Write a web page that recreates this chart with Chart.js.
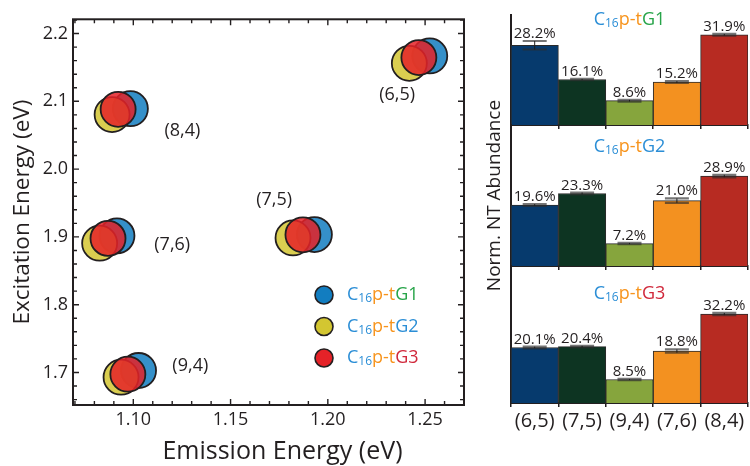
<!DOCTYPE html>
<html>
<head>
<meta charset="utf-8">
<script src="https://cdn.jsdelivr.net/npm/chart.js@4"></script>
<style>
  html, body { margin: 0; padding: 0; background: #fff; width: 750px; height: 466px; overflow: hidden; }
  canvas { position: absolute; left: 0; top: 0; }
</style>
</head>
<body>
<canvas id="pl" width="750" height="466"></canvas>
<canvas id="nt0" width="750" height="466"></canvas>
<canvas id="nt1" width="750" height="466"></canvas>
<canvas id="nt2" width="750" height="466"></canvas>
<script>
// ---- data ----
const chiralities = ['(6,5)', '(7,5)', '(9,4)', '(7,6)', '(8,4)'];
const sampleSuffix = ['G1', 'G2', 'G3'];

// PL peak positions (eV), in chirality order
const emissionG1   = [1.2524, 1.1931, 1.1027, 1.0916, 1.0985];
const excitationG1 = [2.1669, 1.9034, 1.7029, 1.9015, 2.0892];
const emissionG2   = [1.2419, 1.1821, 1.0937, 1.0827, 1.0891];
const excitationG2 = [2.1560, 1.8985, 1.6931, 1.8907, 2.0805];
const emissionG3   = [1.2468, 1.1872, 1.0972, 1.0870, 1.0922];
const excitationG3 = [2.1646, 1.9031, 1.6975, 1.8978, 2.0882];

// where each chirality tag sits (eV, eV)
const tagEmission   = [1.2356, 1.1724, 1.1293, 1.1200, 1.1252];
const tagExcitation = [2.1096, 1.9550, 1.7090, 1.8880, 2.0570];

// normalized nanotube abundance (%) and its uncertainty
const abundanceG1 = [28.2, 16.1, 8.6, 15.2, 31.9];
const abundanceG2 = [19.6, 23.3, 7.2, 21.0, 28.9];
const abundanceG3 = [20.1, 20.4, 8.5, 18.8, 32.2];
const errorG1 = [1.5, 0.2, 0.3, 0.3, 0.3];
const errorG2 = [0.3, 0.3, 0.2, 0.7, 0.4];
const errorG3 = [0.3, 0.3, 0.2, 0.6, 0.4];

// axis ranges and tick labels
const emissionRange = [1.069, 1.270];
const excitationRange = [1.652, 2.221];
const emissionTicks = [1.10, 1.15, 1.20, 1.25];
const excitationTicks = [1.7, 1.8, 1.9, 2.0, 2.1, 2.2];
const abundanceMax = [38.9, 45.3, 49.6];

// ---- styling ----
const FONT = "'Open Sans', 'DejaVu Sans', sans-serif";
const INK = '#231f20';
Chart.defaults.font.family = FONT;
Chart.defaults.color = INK;

const markerColors = ['#127dc0', '#d3c631', '#e52228'];
const markerFill = ['rgba(18,125,192,0.85)', 'rgba(211,198,49,0.85)', 'rgba(229,34,40,0.85)'];
const nameBlue = '#2b8ed6', nameOrange = '#f7941d';
const suffixColors = ['#27a449', '#2b8ed6', '#d0283b'];
const barColors = ['#063a6d', '#0d3422', '#86a53d', '#f39120', '#b72b22'];

// "C16p-tGn" with subscript and mixed colours
function drawSampleName(ctx, x, y, idx, align) {
  const parts = [
    { t: 'C', c: nameBlue, s: 18, dy: 0 },
    { t: '16', c: nameBlue, s: 12, dy: 4 },
    { t: 'p-t', c: nameOrange, s: 18, dy: 0 },
    { t: sampleSuffix[idx], c: suffixColors[idx], s: 18, dy: 0 }
  ];
  ctx.save();
  ctx.textBaseline = 'middle';
  ctx.textAlign = 'left';
  let total = 0;
  parts.forEach(p => { ctx.font = p.s + 'px ' + FONT; p.w = ctx.measureText(p.t).width; total += p.w; });
  let cx = align === 'center' ? x - total / 2 : x;
  parts.forEach(p => {
    ctx.font = p.s + 'px ' + FONT;
    ctx.fillStyle = p.c;
    ctx.fillText(p.t, cx, y + p.dy);
    cx += p.w;
  });
  ctx.restore();
}

// ---- PL map ----
const frameAndTicks = {
  id: 'frameAndTicks',
  afterDraw(chart) {
    const { ctx, chartArea: a, scales: { x, y } } = chart;
    ctx.save();
    ctx.strokeStyle = INK;
    ctx.lineWidth = 1.4;
    for (let k = 107; k <= 127; k++) {
      const px = x.getPixelForValue(k / 100);
      const len = k % 5 === 0 ? 6 : 4;
      ctx.beginPath();
      ctx.moveTo(px, a.bottom); ctx.lineTo(px, a.bottom - len);
      ctx.moveTo(px, a.top); ctx.lineTo(px, a.top + len);
      ctx.stroke();
    }
    for (let k = 166; k <= 222; k += 2) {
      const py = y.getPixelForValue(k / 100);
      const len = k % 10 === 0 ? 6 : 4;
      ctx.beginPath();
      ctx.moveTo(a.left, py); ctx.lineTo(a.left + len, py);
      ctx.moveTo(a.right, py); ctx.lineTo(a.right - len, py);
      ctx.stroke();
    }
    ctx.lineWidth = 2;
    ctx.strokeRect(a.left, a.top, a.right - a.left, a.bottom - a.top);

    // chirality tags
    ctx.fillStyle = INK;
    ctx.font = '18px ' + FONT;
    ctx.textAlign = 'center';
    ctx.textBaseline = 'middle';
    chiralities.forEach((c, i) => {
      ctx.fillText(c, x.getPixelForValue(tagEmission[i]), y.getPixelForValue(tagExcitation[i]));
    });

    // x-axis title
    ctx.font = '25px ' + FONT;
    ctx.fillText('Emission Energy (eV)', (a.left + a.right) / 2 + 14, a.bottom + 47);

    // legend
    const lx = a.right - 140, ly = a.bottom - 110;
    for (let i = 0; i < 3; i++) {
      const cy = ly + i * 31.5;
      ctx.beginPath();
      ctx.arc(lx, cy, 9, 0, Math.PI * 2);
      ctx.fillStyle = markerColors[i];
      ctx.fill();
      ctx.lineWidth = 1.6;
      ctx.strokeStyle = INK;
      ctx.stroke();
      drawSampleName(ctx, lx + 23, cy, i, 'left');
    }
    ctx.restore();
  }
};

function points(xs, ys) { return xs.map((v, i) => ({ x: v, y: ys[i] })); }
const plSeries = [[emissionG1, excitationG1], [emissionG2, excitationG2], [emissionG3, excitationG3]];

new Chart(document.getElementById('pl'), {
  type: 'scatter',
  data: {
    datasets: plSeries.map((s, i) => ({
      label: 'C16p-t' + sampleSuffix[i],
      data: points(s[0], s[1]),
      backgroundColor: markerFill[i],
      borderColor: INK,
      borderWidth: 1.8,
      pointRadius: 17.5,
      order: 3 - i
    }))
  },
  options: {
    responsive: false,
    animation: false,
    events: [],
    layout: { padding: { left: 0, top: 15, right: 286, bottom: 0 } },
    plugins: { legend: { display: false }, tooltip: { enabled: false } },
    scales: {
      x: {
        type: 'linear',
        min: emissionRange[0], max: emissionRange[1],
        afterFit(s) { s.height = 61; },
        grid: { display: false, drawTicks: false },
        border: { display: false },
        ticks: {
          stepSize: 0.05, includeBounds: false, autoSkip: false, maxRotation: 0, padding: 4,
          font: { size: 18 }, color: INK,
          callback(v) {
            const t = emissionTicks.find(t => Math.abs(t - v) < 1e-6);
            return t === undefined ? '' : t.toFixed(2);
          }
        }
      },
      y: {
        type: 'linear',
        min: excitationRange[0], max: excitationRange[1],
        afterFit(s) { s.width = 73; },
        grid: { display: false, drawTicks: false },
        border: { display: false },
        ticks: {
          stepSize: 0.1, includeBounds: false, autoSkip: false, padding: 5,
          font: { size: 18 }, color: INK,
          callback(v) {
            const t = excitationTicks.find(t => Math.abs(t - v) < 1e-6);
            return t === undefined ? '' : t.toFixed(1);
          }
        },
        title: { display: true, text: 'Excitation Energy (eV)', font: { size: 22.5 }, color: INK, padding: { top: 9, bottom: 0 } }
      }
    }
  },
  plugins: [frameAndTicks]
});

// ---- abundance panels ----
const abundances = [abundanceG1, abundanceG2, abundanceG3];
const errors = [errorG1, errorG2, errorG3];
const panelTop = [15, 125, 266];
const panelBottom = [125, 266, 403];
const titleOffset = [5, 22, 28];

function panelDecor(idx) {
  return {
    id: 'panelDecor' + idx,
    afterDatasetsDraw(chart) {
      const { ctx, chartArea: a, scales: { y } } = chart;
      const bars = chart.getDatasetMeta(0).data;
      ctx.save();
      bars.forEach((bar, i) => {
        const v = abundances[idx][i], e = errors[idx][i];
        const yHi = y.getPixelForValue(v + e), yLo = y.getPixelForValue(v - e);
        ctx.strokeStyle = 'rgba(45,45,45,0.65)';
        ctx.lineWidth = 2.2;
        ctx.beginPath();
        ctx.moveTo(bar.x - 12, yHi); ctx.lineTo(bar.x + 12, yHi);
        ctx.moveTo(bar.x - 12, yLo); ctx.lineTo(bar.x + 12, yLo);
        ctx.stroke();
        ctx.strokeStyle = '#1e1e1e';
        ctx.lineWidth = 1;
        ctx.beginPath();
        ctx.moveTo(bar.x, yHi); ctx.lineTo(bar.x, yLo);
        ctx.stroke();
        ctx.fillStyle = INK;
        ctx.font = '15px ' + FONT;
        ctx.textAlign = 'center';
        ctx.textBaseline = 'alphabetic';
        ctx.fillText(v.toFixed(1) + '%', bar.x, yHi - 3);
      });
      ctx.restore();
      drawSampleName(ctx, (a.left + a.right) / 2, a.top + titleOffset[idx], idx, 'center');
    }
  };
}

abundances.forEach((vals, idx) => {
  const last = idx === 2;
  const mid = idx === 1;
  new Chart(document.getElementById('nt' + idx), {
    type: 'bar',
    data: {
      labels: chiralities,
      datasets: [{
        data: vals,
        backgroundColor: barColors,
        borderColor: '#2a2a2a',
        borderWidth: 1,
        categoryPercentage: 1,
        barPercentage: 1
      }]
    },
    options: {
      responsive: false,
      animation: false,
      events: [],
      layout: { padding: { left: mid ? 483 : 511, top: panelTop[idx], right: 2, bottom: last ? 0 : 466 - panelBottom[idx] } },
      plugins: { legend: { display: false }, tooltip: { enabled: false } },
      scales: {
        x: {
          afterFit(s) { s.height = last ? 466 - panelBottom[idx] : 0; },
          grid: { display: true, drawOnChartArea: false, drawTicks: true, tickLength: 4, color: INK, lineWidth: 1.5, offset: true },
          border: { display: true, width: 2, color: INK },
          ticks: { display: last, font: { size: 20 }, color: INK, padding: 2, maxRotation: 0, autoSkip: false }
        },
        y: {
          min: 0, max: abundanceMax[idx],
          afterFit(s) { s.width = mid ? 28 : 0; },
          grid: { display: false, drawTicks: false },
          border: { display: true, width: 2, color: INK },
          ticks: { display: false },
          title: { display: mid, text: 'Norm. NT Abundance', font: { size: 19 }, color: INK, padding: { top: 0, bottom: 0 } }
        }
      }
    },
    plugins: [panelDecor(idx)]
  });
});
</script>
</body>
</html>
